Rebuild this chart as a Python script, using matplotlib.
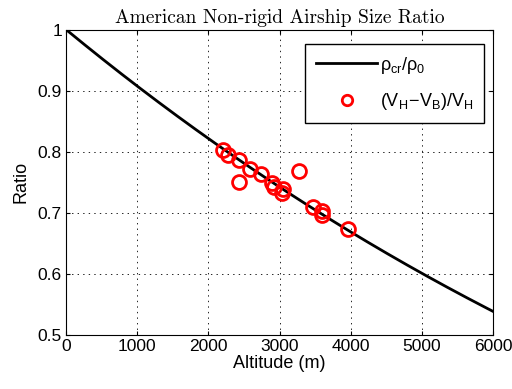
import numpy as np
import matplotlib.pyplot as plt

plt.rcParams['font.family'] = ['Liberation Sans', 'DejaVu Sans']
plt.rcParams['mathtext.fontset'] = 'custom'
plt.rcParams['mathtext.rm'] = 'Liberation Sans'
plt.rcParams['mathtext.it'] = 'Liberation Sans'
plt.rcParams['mathtext.bf'] = 'Liberation Sans:bold'
plt.rcParams['lines.scale_dashes'] = False

# airship data: altitude (m) and (V_H - V_B)/V_H
alt = [2200, 2270, 2430, 2590, 2740, 2430, 3280, 2900, 2915, 3045, 3040, 3470, 3600, 3590, 3960]
ratio = [0.803, 0.794, 0.786, 0.772, 0.763, 0.750, 0.768, 0.748, 0.743, 0.739, 0.732, 0.710, 0.703, 0.696, 0.673]

# standard atmosphere density ratio
h = np.linspace(0, 6000, 300)
rho = (1 - 2.2558e-5 * h) ** 4.2559

fig = plt.figure(figsize=(5.12, 3.89), dpi=100)
ax = fig.add_axes([0.129, 0.139, 0.834, 0.785])

ax.plot(h, rho, 'k-', lw=2, label=r'$\rho_{cr}/\rho_0$')
ax.plot(alt, ratio, 'o', mfc='none', mec='red', mew=2, ms=10,
        label=r'$(V_H\!-\!V_B)/V_H$')

ax.set_xlim(0, 6000)
ax.set_ylim(0.5, 1)
ax.set_xticks(range(0, 6001, 1000))
ax.set_yticks([0.5, 0.6, 0.7, 0.8, 0.9, 1])
ax.set_yticklabels(['0.5', '0.6', '0.7', '0.8', '0.9', '1'])
ax.tick_params(direction='in', top=True, right=True, labelsize=12.5, length=3, pad=3)
ax.grid(True, color='k', linestyle=(0, (1, 3)), linewidth=0.6)

ax.set_xlabel('Altitude (m)', fontsize=13, labelpad=1)
ax.set_ylabel('Ratio', fontsize=13, labelpad=6)
ax.set_title('American Non-rigid Airship Size Ratio', family='cmr10', fontsize=14, pad=5)

leg = ax.legend(loc='upper right', bbox_to_anchor=(0.979, 0.953), borderaxespad=0,
                fontsize=13, fancybox=False, edgecolor='k', framealpha=1,
                handlelength=3.4, handletextpad=0.15, labelspacing=0.85, borderpad=0.6)
leg.get_frame().set_linewidth(1)
leg.legend_handles[1].set_markersize(7.5)

fig.savefig('out.png', dpi=100)
